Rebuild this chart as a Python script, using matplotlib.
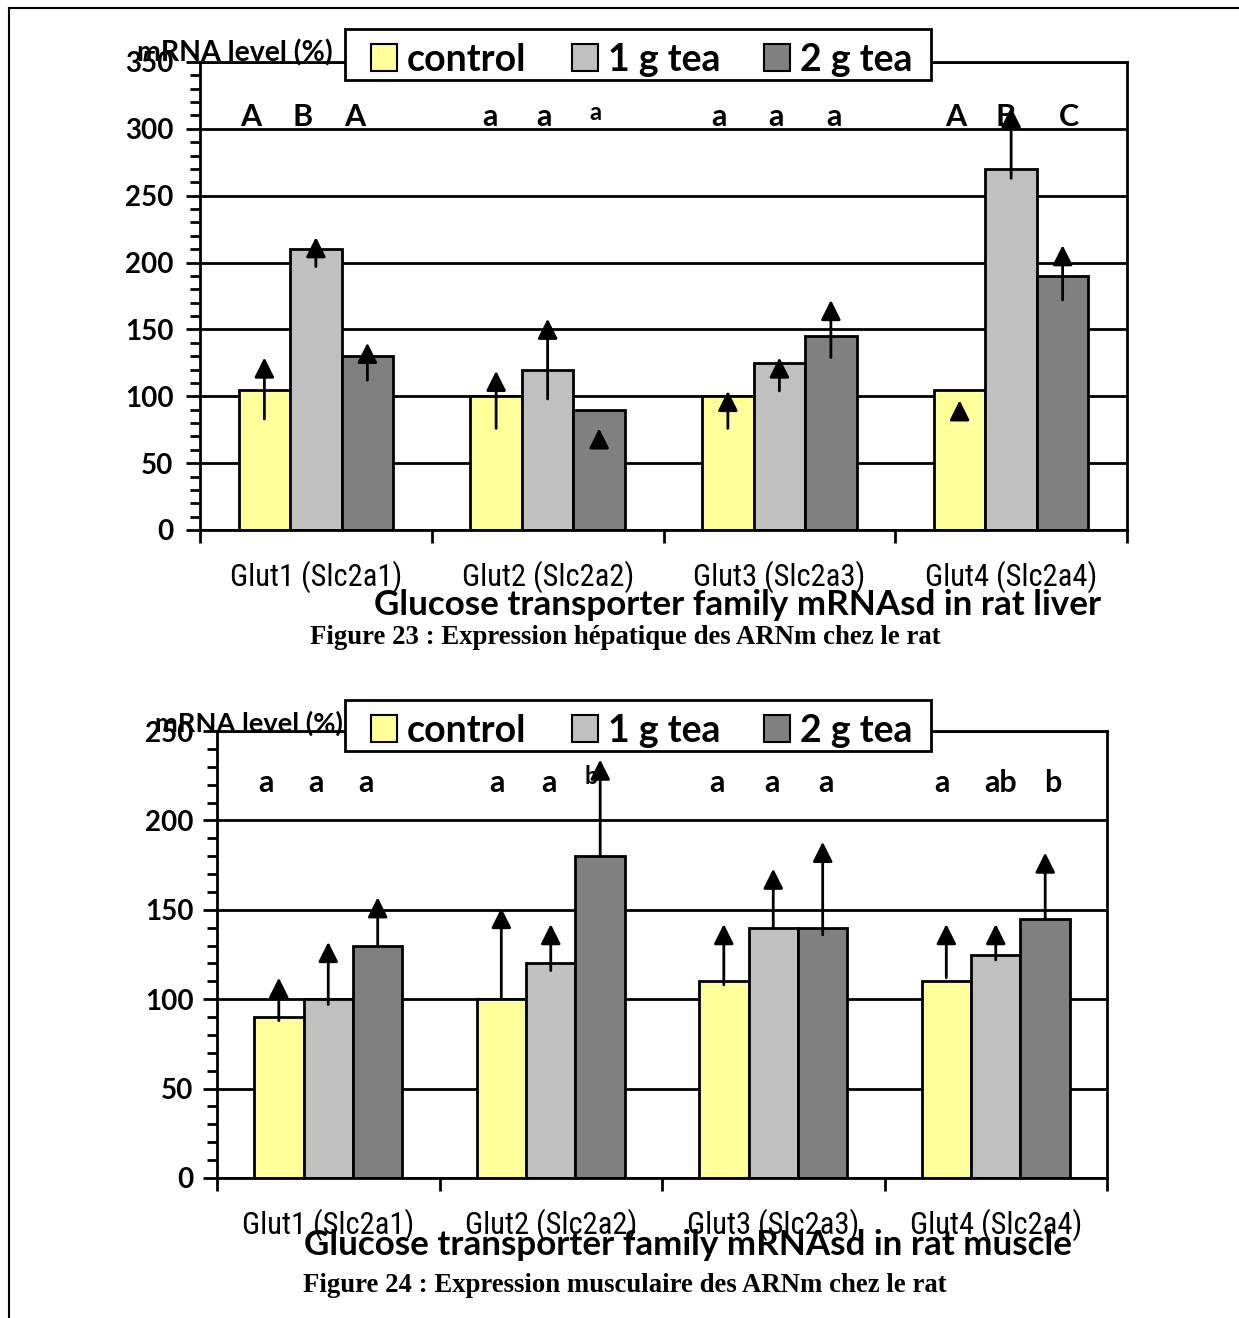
import matplotlib
matplotlib.use("Agg")
import matplotlib.pyplot as plt
from matplotlib.patches import Rectangle, ArrowStyle
from matplotlib.lines import Line2D
from matplotlib.transforms import Affine2D
import numpy as np

# ---------------- data ----------------
categories = ["Glut1 (Slc2a1)", "Glut2 (Slc2a2)", "Glut3 (Slc2a3)", "Glut4 (Slc2a4)"]
series_names = ["control", "1 g tea", "2 g tea"]
series_colors = ["#FFFF99", "#C0C0C0", "#808080"]

# liver
liver_control = [105, 100, 100, 105]
liver_tea1 = [210, 120, 125, 270]
liver_tea2 = [130, 90, 145, 190]
# error bar ends (low, high) per bar
liver_control_lo = [83, 76, 76, 83]
liver_control_hi = [129, 119, 104, 97]
liver_tea1_lo = [197, 98, 104, 263]
liver_tea1_hi = [219, 158, 129, 316]
liver_tea2_lo = [112, 65, 129, 172]
liver_tea2_hi = [140, 76, 172, 213]
liver_letters = [["A", "B", "A"], ["a", "a", "a"], ["a", "a", "a"], ["A", "B", "C"]]
liver_letter_sizes = [[22, 22, 22], [22, 22, 17], [22, 22, 22], [22, 22, 22]]
# letter placement relative to the category centre (category units)
liver_letter_dx = [[-0.28, -0.056, 0.168], [-0.25, -0.017, 0.207],
                   [-0.259, -0.013, 0.237], [-0.237, -0.026, 0.25]]

# muscle
muscle_control = [90, 100, 110, 110]
muscle_tea1 = [100, 120, 140, 125]
muscle_tea2 = [130, 180, 140, 145]
muscle_control_lo = [88, 101, 108, 112]
muscle_control_hi = [112, 151, 142, 142]
muscle_tea1_lo = [97, 116, 140, 122]
muscle_tea1_hi = [132, 142, 173, 142]
muscle_tea2_lo = [130, 180, 136, 145]
muscle_tea2_hi = [157, 234, 188, 182]
muscle_letters = [["a", "a", "a"], ["a", "a", "b"], ["a", "a", "a"], ["a", "ab", "b"]]
muscle_letter_sizes = [[22, 22, 22], [22, 22, 17], [22, 22, 22], [22, 22, 22]]
muscle_letter_dx = [[-0.281, -0.056, 0.169], [-0.243, -0.009, 0.18],
                    [-0.254, -0.007, 0.236], [-0.243, 0.022, 0.256]]

liver_title = "Glucose transporter family mRNAsd in rat liver"
liver_caption = "Figure 23 : Expression hépatique des ARNm chez le rat"
muscle_title = "Glucose transporter family mRNAsd in rat muscle"
muscle_caption = "Figure 24 : Expression musculaire des ARNm chez le rat"
ylabel_text = "mRNA level (%)"

# ---------------- style ----------------
BOLD_FONT = ["Lato", "DejaVu Sans"]
CAT_FONT = ["Roboto Condensed", "Liberation Sans Narrow", "DejaVu Sans"]
SERIF_FONT = ["Liberation Serif", "DejaVu Serif"]

W, H = 1239, 1318
fig = plt.figure(figsize=(W / 100, H / 100), dpi=100)
# pixel coordinates measured from the top-left corner of the page
px = Affine2D().scale(1 / W, -1 / H).translate(0, 1) + fig.transFigure


def px_axes(x0, y0, x1, y1):
    return fig.add_axes([x0 / W, 1 - y1 / H, (x1 - x0) / W, (y1 - y0) / H])


def draw_legend(top):
    fig.add_artist(Rectangle((345, top), 586, 51, transform=px, facecolor="white",
                             edgecolor="black", lw=2, zorder=20))
    for x0, name, col in zip([371, 572, 764], series_names, series_colors):
        fig.add_artist(Rectangle((x0, top + 15), 26, 27, transform=px, facecolor=col,
                                 edgecolor="black", lw=1.5, zorder=21))
        fig.text(x0 + 36, top + 42, name, transform=px, ha="left", va="baseline",
                 fontsize=27, fontweight="bold", family=BOLD_FONT, zorder=22)


def draw_chart(ax, ymax, values, los, his, letters, letter_sizes, letter_dx,
               letter_y, tick_pad):
    n = len(categories)
    x = np.arange(n)
    bw = 1 / 4.5
    offsets = [-bw, 0, bw]
    ax.set_xlim(-0.5, n - 0.5)
    ax.set_ylim(0, ymax)
    ax.set_axisbelow(True)
    ax.yaxis.grid(True, color="black", lw=2)
    for vals, lo, hi, off, col, name in zip(values, los, his, offsets, series_colors, series_names):
        ax.bar(x + off, vals, width=bw, color=col, edgecolor="black", lw=2, zorder=2, label=name)
        for xi, l, h in zip(x + off, lo, hi):
            ax.annotate("", xy=(xi, h), xytext=(xi, l),
                        arrowprops=dict(arrowstyle=ArrowStyle("-|>", head_length=1.2, head_width=0.6),
                                        color="black", lw=2, shrinkA=0, shrinkB=0,
                                        mutation_scale=10),
                        zorder=4)
    # significance letters
    for gi, group in enumerate(letters):
        for si, txt in enumerate(group):
            size = letter_sizes[gi][si]
            ax.text(x[gi] + letter_dx[gi][si], letter_y + (22 - size) * 0.9, txt,
                    ha="center", va="baseline", fontsize=size, fontweight="bold",
                    family=BOLD_FONT, zorder=5)
    # axes styling
    for side in ["left", "right", "top", "bottom"]:
        ax.spines[side].set_linewidth(2)
        ax.spines[side].set_zorder(3)
    ax.set_yticks(np.arange(0, ymax + 1, 50))
    ax.set_yticks(np.arange(0, ymax + 1, 10), minor=True)
    ax.tick_params(axis="y", which="major", length=10, width=2, pad=tick_pad, labelsize=20)
    ax.tick_params(axis="y", which="minor", length=7, width=2)
    for lab in ax.get_yticklabels():
        lab.set_fontweight("bold")
        lab.set_family(BOLD_FONT)
    ax.set_xticks(np.arange(-0.5, n, 1.0))
    ax.set_xticklabels([])
    ax.tick_params(axis="x", which="major", length=9, width=2)
    ax.set_xticks(x, minor=True)
    ax.set_xticklabels(categories, minor=True, fontsize=22, family=CAT_FONT,
                       fontstretch="condensed")
    ax.tick_params(axis="x", which="minor", length=0, pad=22)


# liver chart
ax1 = px_axes(200, 62, 1127, 530)
draw_chart(ax1, 350,
           [liver_control, liver_tea1, liver_tea2],
           [liver_control_lo, liver_tea1_lo, liver_tea2_lo],
           [liver_control_hi, liver_tea1_hi, liver_tea2_hi],
           liver_letters, liver_letter_sizes, liver_letter_dx, 302, 9)
draw_legend(29)
fig.text(137, 53, ylabel_text, transform=px, ha="left", va="center", fontsize=20.5,
         fontweight="bold", family=BOLD_FONT)
fig.text(738, 605, liver_title, transform=px, ha="center", va="center", fontsize=25.2,
         fontweight="bold", family=BOLD_FONT)
fig.text(625, 638, liver_caption, transform=px, ha="center", va="center", fontsize=19.3,
         fontweight="bold", family=SERIF_FONT)

# muscle chart
ax2 = px_axes(217, 731, 1107, 1178)
draw_chart(ax2, 250,
           [muscle_control, muscle_tea1, muscle_tea2],
           [muscle_control_lo, muscle_tea1_lo, muscle_tea2_lo],
           [muscle_control_hi, muscle_tea1_hi, muscle_tea2_hi],
           muscle_letters, muscle_letter_sizes, muscle_letter_dx, 216, 7)
draw_legend(700)
fig.text(155, 723, ylabel_text, transform=px, ha="left", va="center", fontsize=19.6,
         fontweight="bold", family=BOLD_FONT)
fig.text(688, 1245, muscle_title, transform=px, ha="center", va="center", fontsize=25.2,
         fontweight="bold", family=BOLD_FONT)
fig.text(625, 1286, muscle_caption, transform=px, ha="center", va="center", fontsize=19.3,
         fontweight="bold", family=SERIF_FONT)

# page frame (left and top edges)
fig.add_artist(Line2D([9, 9], [8, H], color="black", lw=1.5, transform=px))
fig.add_artist(Line2D([9, W], [8, 8], color="black", lw=1.5, transform=px))

fig.savefig("out.png", dpi=100, facecolor="white")
